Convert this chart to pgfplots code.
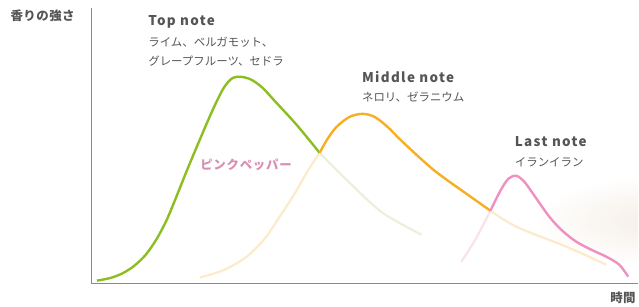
\documentclass[border=0pt]{standalone}
\usepackage{pgfplots}
\pgfplotsset{compat=1.18}
\usepackage{fontspec}
\setmainfont{Noto Sans CJK JP}
\definecolor{txt}{HTML}{555555}
\definecolor{axgray}{HTML}{8A8A8A}
\definecolor{cgreen}{HTML}{8CBE22}
\definecolor{corange}{HTML}{F7AE22}
\definecolor{cpink}{HTML}{EF90BF}
\definecolor{fgreen}{HTML}{E9F1DA}
\definecolor{forange}{HTML}{FCEACB}
\definecolor{fpink}{HTML}{FBE1EA}
\definecolor{ptxt}{HTML}{D98FB3}
\definecolor{glow}{HTML}{F4EDE3}
\begin{document}
\begin{tikzpicture}
\begin{axis}[
  at={(0,0)}, anchor=south west,
  scale only axis, width=547bp, height=276bp,
  xmin=92, xmax=639, ymin=22, ymax=298,
  axis x line*=bottom, axis y line*=left,
  axis line style={axgray, line width=1.2bp, -},
  xtick=\empty, ytick=\empty,
  clip=false,
]
\path (axis cs:0,0) rectangle (axis cs:639,306);
\begin{scope}
\clip (axis cs:530,23) rectangle (axis cs:639,140);
\shade[inner color=glow, outer color=white] (axis cs:665,85) ellipse [x radius=130bp, y radius=45bp];
\end{scope}
% faded tails
\addplot[fgreen, line width=2.2bp, smooth, tension=0.5] coordinates {(320,153) (350,123) (383,93) (422,71)};
\addplot[forange, line width=2.2bp, smooth, tension=0.5] coordinates {(200,28) (225,36) (247,49) (265,67) (280,89) (295,112) (307,133) (320,153)};
\addplot[forange, line width=2.2bp, smooth, tension=0.5] coordinates {(491,95) (517,79) (567,59) (607,41)};
\addplot[fpink, line width=2.2bp, smooth, tension=0.5] coordinates {(462,44) (477,68) (491,95)};
% main curves
\addplot[cgreen, line width=2.4bp, smooth, tension=0.5] coordinates {(97,25) (110,27.5) (122,32) (134,39.5) (146,51) (157,67) (167,86) (177,110) (187,135) (200,166) (213,196) (224,218) (233,228) (242,229) (252,226) (263,218) (275,205) (297,181) (320,153)};
\addplot[corange, line width=2.4bp, smooth, tension=0.5] coordinates {(320,153) (328,167) (337,179) (350,189) (363,192) (375,189) (388,179) (400,167) (417,151) (434,136) (450,124) (467,112) (491,95)};
\addplot[cpink, line width=2.4bp, smooth, tension=0.5] coordinates {(491,95) (501,115) (509,127) (517,130) (525,124) (533,113) (550,89) (563,75) (577,64) (592,56) (607,49) (620,41) (629,29)};
% labels
\node[anchor=west, text=txt, font=\fontsize{12.5}{12.5}\selectfont\bfseries\addfontfeatures{LetterSpace=4}] at (axis cs:7,290) {香りの強さ};
\node[anchor=east, text=txt, font=\fontsize{12.5}{12.5}\selectfont\bfseries\addfontfeatures{LetterSpace=4}] at (axis cs:640,8) {時間};
\node[anchor=west, text=txt, font=\fontsize{13.5}{13.5}\selectfont\bfseries\addfontfeatures{LetterSpace=10}] at (axis cs:145,284) {Top note};
\node[anchor=west, text=txt, font=\fontsize{11.5}{11.5}\selectfont] at (axis cs:145,264) {ライム、ベルガモット、};
\node[anchor=west, text=txt, font=\fontsize{11.5}{11.5}\selectfont] at (axis cs:145,245) {グレープフルーツ、セドラ};
\node[anchor=west, text=txt, font=\fontsize{13.5}{13.5}\selectfont\bfseries\addfontfeatures{LetterSpace=10}] at (axis cs:359,229) {Middle note};
\node[anchor=west, text=txt, font=\fontsize{11.5}{11.5}\selectfont] at (axis cs:359,209) {ネロリ、ゼラニウム};
\node[anchor=west, text=txt, font=\fontsize{13.5}{13.5}\selectfont\bfseries\addfontfeatures{LetterSpace=10}] at (axis cs:512,164) {Last note};
\node[anchor=west, text=txt, font=\fontsize{11.5}{11.5}\selectfont] at (axis cs:512,144) {イランイラン};
\node[anchor=west, text=ptxt, font=\fontsize{12.5}{12.5}\selectfont\bfseries\addfontfeatures{LetterSpace=6}] at (axis cs:197,141) {ピンクペッパー};
\end{axis}
\end{tikzpicture}
\end{document}
